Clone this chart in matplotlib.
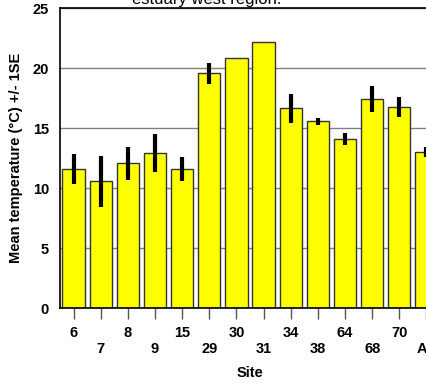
import matplotlib
matplotlib.use("Agg")
import matplotlib.pyplot as plt
import numpy as np

# site labels and mean temperature (+/- 1 SE)
sites = ["6", "7", "8", "9", "15", "29", "30", "31", "34", "38", "64", "68", "70", "All"]
mean_temp = [11.6, 10.55, 12.05, 12.9, 11.6, 19.55, 20.85, 22.2, 16.65, 15.55, 14.1, 17.4, 16.75, 13.0]
se = [1.25, 2.1, 1.4, 1.6, 1.0, 0.9, np.nan, np.nan, 1.2, 0.3, 0.5, 1.1, 0.85, 0.45]

plt.rcParams["font.family"] = ["Liberation Sans", "DejaVu Sans"]
plt.rcParams["font.weight"] = "bold"

fs = 10.5
fig = plt.figure(figsize=(4.26, 3.83), dpi=100)
ax = fig.add_axes([60 / 426, 75 / 383, 380 / 426, 300 / 383])

x = np.arange(len(sites))
ax.bar(x, mean_temp, width=0.82, color="#ffff00", edgecolor="#333333",
       linewidth=1, zorder=2)
ax.errorbar(x, mean_temp, yerr=se, fmt="none", ecolor="black",
            elinewidth=3, capsize=0, zorder=3)

ax.set_xlim(-0.5, len(sites) - 0.5)
ax.set_ylim(0, 25)
ax.set_yticks([0, 5, 10, 15, 20, 25])
ax.yaxis.grid(True, color="#808080", linewidth=1, zorder=0)
ax.set_axisbelow(True)

# staggered x labels: odd sites go on a second row
labels = [s if i % 2 == 0 else "\n" + s for i, s in enumerate(sites)]
ax.set_xticks(x)
ax.set_xticklabels(labels, fontsize=fs, fontweight="bold", linespacing=1.2)
ax.tick_params(axis="x", length=8, width=1, color="#555555", pad=5)
ax.tick_params(axis="y", length=0, pad=8, labelsize=fs)

for s in ax.spines.values():
    s.set_linewidth(1.2)

ax.set_ylabel("Mean temperature (°C) +/- 1SE", fontsize=fs, fontweight="bold", labelpad=7)
ax.set_xlabel("Site", fontsize=fs, fontweight="bold", labelpad=7)

fig.text(207 / 426, 1 - 4 / 383, "Mean temperature at sites in the\nestuary west region.",
         ha="center", va="baseline", fontsize=12, fontweight="normal")

fig.savefig("out.png", dpi=100)
